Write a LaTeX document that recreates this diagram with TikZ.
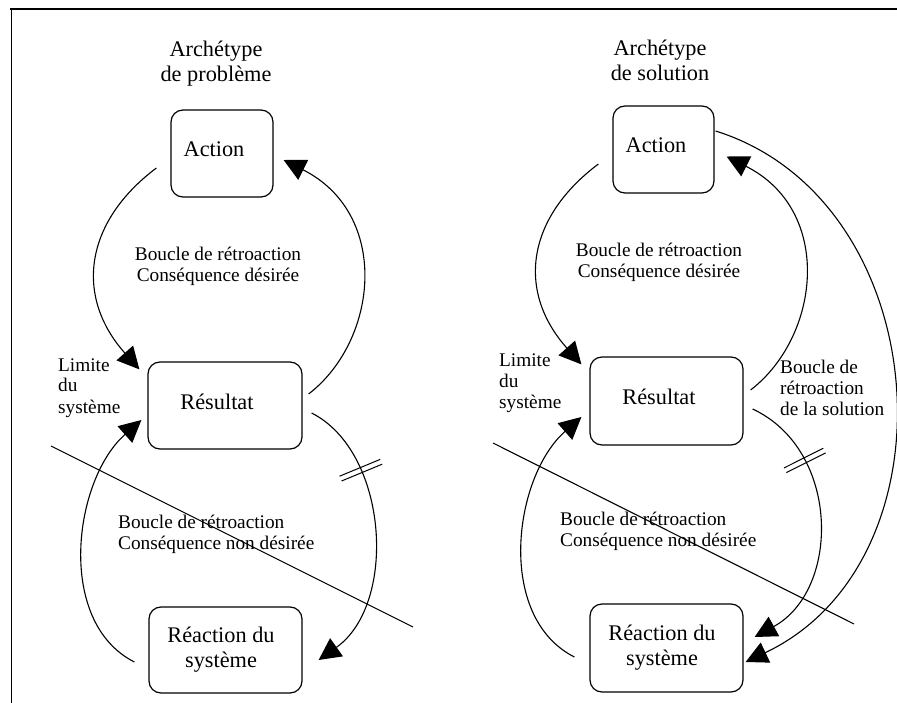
\documentclass[tikz,border=0pt]{standalone}
\usepackage{fontspec}
\setmainfont{Liberation Serif}
\usetikzlibrary{arrows.meta,calc,decorations.markings}
\newcommand{\bigtxt}{\fontsize{22.3}{25}\selectfont}
\newcommand{\smalltxt}{\fontsize{19.3}{21}\selectfont}
\begin{document}
\begin{tikzpicture}[x=1pt,y=-1pt,
  stockbox/.style={draw, rounded corners=12pt, line width=1.2pt, inner sep=0pt, align=center, font=\bigtxt},
  feedback/.style={line width=1.1pt, -{Triangle[length=22pt,width=22pt]}},
  plain/.style={line width=1.1pt},
  % multi-line texts are anchored on the baseline of their last line
  heading/.style={font=\bigtxt, align=center, anchor=base, inner sep=0pt},
  annot/.style={font=\smalltxt, align=left, anchor=base west, inner sep=0pt},
  annotc/.style={font=\smalltxt, align=center, anchor=base, inner sep=0pt},
  hashmark/.style={postaction={decorate}, decoration={markings, mark=at position #1 with {\draw[-, line width=1pt] (-2.6,-22)--(-2.6,22) (2.6,-22)--(2.6,22);}}}
]
\useasboundingbox (0,0) rectangle (897,703);

% frame
\draw[line width=1.6pt] (10,9) -- (897,9);
\draw[line width=1.5pt] (11.5,9) -- (11.5,703);

% ---------- problem archetype ----------
\node[heading] (tL) at (216,82) {Archétype\\de problème};
\node[stockbox, minimum width=102pt, minimum height=87pt, text height=15pt, text depth=8pt] (A1) at (222,153.5) {Action\hspace*{16pt}};
\node[stockbox, minimum width=154pt, minimum height=87pt, text height=15pt, text depth=8pt] (R1) at (225,405.5) {Résultat\hspace*{16pt}};
\node[stockbox, minimum width=153pt, minimum height=86pt] (S1) at (225.5,650) {Réaction du\hspace*{9pt}\\système\hspace*{9pt}};

\node[annotc] (dL) at (218,282) {Boucle de rétroaction\\Conséquence désirée};
\node[annot] (lL) at (58,413) {Limite\\du\\système};
\node[annot] (uL) at (118,549) {Boucle de rétroaction\\Conséquence non désirée};

\coordinate (la1s) at ($(A1.west)+(-14,14.5)$);
\coordinate (la1e) at ($(R1.north west)+(-8,8)$);
\coordinate (la2s) at ($(R1.east)+(6,-11.5)$);
\coordinate (la2e) at ($(A1.east)+(10,6.5)$);
\coordinate (la3s) at ($(R1.east)+(9,7.5)$);
\coordinate (la3e) at ($(S1.east)+(16,10)$);
\coordinate (la4s) at ($(S1.west)+(-14,12)$);
\coordinate (la4e) at ($(R1.west)+(-6,14.5)$);

\draw[feedback] (la1s) .. controls ($(la1s)+(-72,54)$) and ($(la1e)+(-65,-73)$) .. (la1e);
\draw[feedback] (la2s) .. controls ($(la2s)+(70,-54)$) and ($(la2e)+(107,54)$) .. (la2e);
\draw[feedback, hashmark=0.27] (la3s) .. controls ($(la3s)+(77,39)$) and ($(la3e)+(79,-56)$) .. (la3e);
\draw[feedback] (la4s) .. controls ($(la4s)+(-79,-40)$) and ($(la4e)+(-68,60)$) .. (la4e);

\coordinate (bL1) at (51,446);
\coordinate (bL2) at (413,627);
\draw[plain] (bL1) -- (bL2);

% ---------- solution archetype ----------
\node[heading] (tR) at (660,81) {Archétype\\de solution};
\node[stockbox, minimum width=101pt, minimum height=87pt, text height=15pt, text depth=8pt] (A2) at (663.5,149.5) {Action\hspace*{15pt}};
\node[stockbox, minimum width=153pt, minimum height=88pt, text height=15pt, text depth=8pt] (R2) at (666.5,401) {Résultat\hspace*{15pt}};
\node[stockbox, minimum width=153pt, minimum height=88pt] (S2) at (666.5,648) {Réaction du\hspace*{9pt}\\système\hspace*{9pt}};

\node[annotc] (dR) at (659,278) {Boucle de rétroaction\\Conséquence désirée};
\node[annot] (lR) at (499,408) {Limite\\du\\système};
\node[annot] (uR) at (560,546) {Boucle de rétroaction\\Conséquence non désirée};
\node[annot] (sR) at (780,415) {Boucle de\\rétroaction\\de la solution};

\coordinate (ra1s) at ($(A2.west)+(-14,14.5)$);
\coordinate (ra1e) at ($(R2.north west)+(-8,8)$);
\coordinate (ra2s) at ($(R2.east)+(7,-11)$);
\coordinate (ra2e) at ($(A2.east)+(12,7)$);
\coordinate (ra3s) at ($(R2.east)+(9,8)$);
\coordinate (ra3e) at ($(S2.east)+(11,-11)$);
\coordinate (ra4s) at ($(S2.west)+(-15,9)$);
\coordinate (ra4e) at ($(R2.west)+(-8,16)$);
\coordinate (ra5s) at ($(A2.east)+(1,-18.5)$);
\coordinate (ra5e) at ($(S2.east)+(2,14)$);

\draw[feedback] (ra1s) .. controls ($(ra1s)+(-72,54)$) and ($(ra1e)+(-65,-73)$) .. (ra1e);
\draw[feedback] (ra2s) .. controls ($(ra2s)+(70,-54)$) and ($(ra2e)+(107,54)$) .. (ra2e);
\draw[feedback, hashmark=0.27] (ra3s) .. controls ($(ra3s)+(88,41)$) and ($(ra3e)+(86,-47)$) .. (ra3e);
\draw[feedback] (ra4s) .. controls ($(ra4s)+(-79,-40)$) and ($(ra4e)+(-68,60)$) .. (ra4e);
\draw[feedback] (ra5s) .. controls ($(ra5s)+(220,69)$) and ($(ra5e)+(215,-102)$) .. (ra5e);

\coordinate (bR1) at (493,443);
\coordinate (bR2) at (854,624);
\draw[plain] (bR1) -- (bR2);
\end{tikzpicture}
\end{document}
